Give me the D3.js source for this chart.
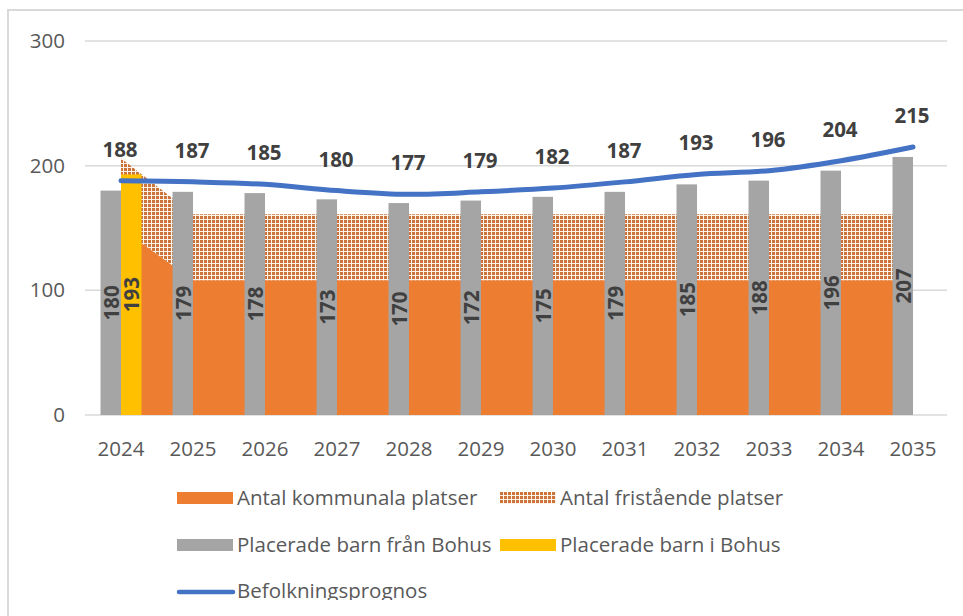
<!DOCTYPE html>
<html>
<head>
<meta charset="utf-8">
<script src="https://cdn.jsdelivr.net/npm/d3@7"></script>
<style>
  body { margin: 0; background: #fff; }
  svg { display: block; font-family: "Open Sans", sans-serif; }
</style>
</head>
<body>
<svg id="chart"></svg>
<script>
var years = ['2024','2025','2026','2027','2028','2029','2030','2031','2032','2033','2034','2035'];
var kommunala = [150,108,108,108,108,108,108,108,108,108,108,108];
var fristaende = [56,53,53,53,53,53,53,53,53,53,53,53];
var franBohus = [180,179,178,173,170,172,175,179,185,188,196,207];
var iBohus = [193,null,null,null,null,null,null,null,null,null,null,null];
var prognos = [188,187,185,180,177,179,182,187,193,196,204,215];
var yTicks = [0,100,200,300];

var svgW = 963;
var svgH = 616;
var plotL = 85, plotR = 949, plotT = 41, plotB = 415;
var fs = 20.5;

var svg = d3.select('#chart').attr('width', svgW).attr('height', svgH);

svg.append('rect').attr('width', svgW).attr('height', svgH).attr('fill', '#fff');
svg.append('rect')
.attr('x', 8).attr('y', 10).attr('width', svgW + 20).attr('height', svgH + 20)
.attr('fill', 'none').attr('stroke', '#d9d9d9').attr('stroke-width', 2);

// dotted fill for fristående
var defs = svg.append('defs');
var pat = defs.append('pattern')
.attr('id', 'dots').attr('patternUnits', 'userSpaceOnUse')
.attr('width', 4).attr('height', 4);
pat.append('rect').attr('width', 4).attr('height', 4).attr('fill', '#fdf3ea');
pat.append('rect').attr('width', 3).attr('height', 3).attr('fill', '#cc7339');

var x = d3.scaleBand().domain(years).range([plotL, plotR]).padding(0);
var bw = x.bandwidth();
var cx = function(d){ return x(d) + bw / 2; };
var x1 = d3.scaleBand().domain(['fran','i']).range([bw / 2 - 20.5, bw / 2 + 20.5]).padding(0);
var y = d3.scaleLinear().domain([0, 300]).range([plotB, plotT]);

// grid + y labels
svg.selectAll('line.grid').data(yTicks).enter().append('line')
.attr('class', 'grid')
.attr('x1', plotL).attr('x2', plotR - 2)
.attr('y1', function(d){ return y(d); }).attr('y2', function(d){ return y(d); })
.attr('stroke', '#d9d9d9').attr('stroke-width', 1.5);

svg.selectAll('text.ytick').data(yTicks).enter().append('text')
.attr('class', 'ytick')
.attr('x', 65).attr('y', function(d){ return y(d) + 7; })
.attr('text-anchor', 'end').attr('font-size', fs).attr('fill', '#595959')
.text(function(d){ return d; });

svg.selectAll('text.xtick').data(years).enter().append('text')
.attr('class', 'xtick')
.attr('x', cx).attr('y', 456)
.attr('text-anchor', 'middle').attr('font-size', fs).attr('fill', '#595959')
.text(function(d){ return d; });

// stacked areas
var stackData = years.map(function(d, i){ return {year: d, k: kommunala[i], f: fristaende[i]}; });
var stack = d3.stack().keys(['k','f'])(stackData);
var area = d3.area()
.x(function(d){ return cx(d.data.year); })
.y0(function(d){ return y(d[0]); })
.y1(function(d){ return y(d[1]); });

svg.append('path').datum(stack[0]).attr('d', area).attr('fill', '#ED7D31');
svg.append('path').datum(stack[1]).attr('d', area).attr('fill', 'url(#dots)');

// bars
svg.selectAll('rect.fran').data(franBohus).enter().append('rect')
.attr('class', 'fran')
.attr('x', function(d, i){ return x(years[i]) + x1('fran'); })
.attr('y', function(d){ return y(d); })
.attr('width', x1.bandwidth())
.attr('height', function(d){ return plotB - y(d); })
.attr('fill', '#A5A5A5');

var iData = iBohus.map(function(d, i){ return {year: years[i], v: d}; }).filter(function(d){ return d.v != null; });
svg.selectAll('rect.ib').data(iData).enter().append('rect')
.attr('class', 'ib')
.attr('x', function(d){ return x(d.year) + x1('i'); })
.attr('y', function(d){ return y(d.v); })
.attr('width', x1.bandwidth())
.attr('height', function(d){ return plotB - y(d.v); })
.attr('fill', '#FFC000');

// line
var line = d3.line()
.x(function(d, i){ return cx(years[i]); })
.y(function(d){ return y(d); })
.curve(d3.curveCatmullRom);

svg.append('path').datum(prognos).attr('d', line)
.attr('fill', 'none').attr('stroke', '#4472C4').attr('stroke-width', 5)
.attr('stroke-linecap', 'round');

// labels in bars
svg.selectAll('text.fl').data(franBohus).enter().append('text')
.attr('class', 'fl')
.attr('transform', function(d, i){
    var px = x(years[i]) + x1('fran') + x1.bandwidth() / 2;
    var py = y(d / 2);
    return 'translate(' + px + ',' + py + ') rotate(-90)';
})
.attr('text-anchor', 'middle').attr('dominant-baseline', 'central')
.attr('font-size', fs).attr('font-weight', 'bold').attr('fill', '#404040')
.text(function(d){ return d; });

svg.selectAll('text.il').data(iData).enter().append('text')
.attr('class', 'il')
.attr('transform', function(d){
    var px = x(d.year) + x1('i') + x1.bandwidth() / 2;
    var py = y(d.v / 2);
    return 'translate(' + px + ',' + py + ') rotate(-90)';
})
.attr('text-anchor', 'middle').attr('dominant-baseline', 'central')
.attr('font-size', fs).attr('font-weight', 'bold').attr('fill', '#404040')
.text(function(d){ return d.v; });

// line labels
svg.selectAll('text.pl').data(prognos).enter().append('text')
.attr('class', 'pl')
.attr('x', function(d, i){ return cx(years[i]) - 1; })
.attr('y', function(d){ return y(d) - 24; })
.attr('text-anchor', 'middle')
.attr('font-size', fs).attr('font-weight', 'bold').attr('fill', '#404040')
.text(function(d){ return d; });

// legend (bottom row is cut in the source image)
defs.append('clipPath').attr('id', 'legclip')
.append('rect').attr('x', 0).attr('y', 470).attr('width', svgW).attr('height', 130);

var legend = svg.append('g').attr('clip-path', 'url(#legclip)');
var items = [
    {name: 'Antal kommunala platser', fill: '#ED7D31', lx: 177, ly: 498},
    {name: 'Antal fristående platser', fill: 'url(#dots)', lx: 500, ly: 498},
    {name: 'Placerade barn från Bohus', fill: '#A5A5A5', lx: 177, ly: 545},
    {name: 'Placerade barn i Bohus', fill: '#FFC000', lx: 500, ly: 545}
];
legend.selectAll('rect.sw').data(items).enter().append('rect')
.attr('class', 'sw')
.attr('x', function(d){ return d.lx; }).attr('y', function(d){ return d.ly - 6; })
.attr('width', 56).attr('height', 12)
.attr('fill', function(d){ return d.fill; });
legend.selectAll('text.lt').data(items).enter().append('text')
.attr('class', 'lt')
.attr('x', function(d){ return d.lx + 60; }).attr('y', function(d){ return d.ly + 7; })
.attr('font-size', fs).attr('fill', '#595959')
.text(function(d){ return d.name; });

legend.append('line')
.attr('x1', 179).attr('x2', 233).attr('y1', 592).attr('y2', 592)
.attr('stroke', '#4472C4').attr('stroke-width', 4.5).attr('stroke-linecap', 'round');
legend.append('text')
.attr('x', 237).attr('y', 598)
.attr('font-size', fs).attr('fill', '#595959')
.text('Befolkningsprognos');
</script>
</body>
</html>
